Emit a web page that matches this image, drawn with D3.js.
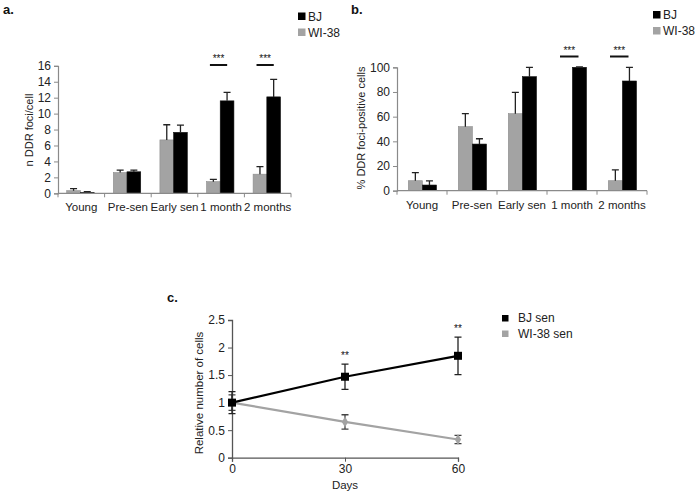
<!DOCTYPE html>
<html><head><meta charset="utf-8">
<script src="https://cdn.jsdelivr.net/npm/d3@7"></script>
<style>
html,body{margin:0;padding:0;background:#fff;}
svg{display:block;font-family:Arial,"Liberation Sans",sans-serif;}
</style></head>
<body>
<svg id="chart" width="695" height="497"></svg>
<script>
// ---------- DATA ----------
const categories = ["Young", "Pre-sen", "Early sen", "1 month", "2 months"];
const seriesNames = ["WI-38", "BJ"];
const fociWI38 = [0.33, 2.6, 6.7, 1.46, 2.4];
const fociWI38Err = [0.25, 0.3, 1.9, 0.29, 0.95];
const fociBJ = [0.12, 2.7, 7.65, 11.6, 12.1];
const fociBJErr = [0.08, 0.2, 0.9, 1.07, 2.2];
const pctWI38 = [8.1, 51.9, 62.4, 0.3, 8.1];
const pctWI38Err = [6.5, 10.5, 17.3, 0, 8.7];
const pctBJ = [4.6, 37.8, 92.4, 100, 88.9];
const pctBJErr = [3.3, 4.3, 7.6, 0.3, 11.1];
const sigCategories = ["1 month", "2 months"];
const fociTicks = [0, 2, 4, 6, 8, 10, 12, 14, 16];
const pctTicks = [0, 20, 40, 60, 80, 100];

const days = [0, 30, 60];
const bjSen = [1.0, 1.47, 1.85];
const bjSenErr = [0.2, 0.23, 0.34];
const wiSen = [1.0, 0.65, 0.33];
const wiSenErr = [0.14, 0.13, 0.075];
const sigDays = [30, 60];
const relTicks = [0, 0.5, 1, 1.5, 2, 2.5];
const lineSeries = ["BJ sen", "WI-38 sen"];

// ---------- STYLE ----------
const GRAY = "#a3a3a3", BLACK = "#000", AXIS = "#8a8a8a", TXT = "#222";
const svg = d3.select("#chart");

function barChart(cfg) {
  const g = svg.append("g");
  const x0 = d3.scaleBand().domain(categories).range([cfg.x0, cfg.x1]);
  const bw = x0.bandwidth();
  const x1 = d3.scaleBand().domain(seriesNames).range([bw * cfg.inner[0], bw * cfg.inner[1]]);
  const y = d3.scaleLinear().domain(cfg.domain).range([cfg.yBottom, cfg.yTop]);

  // bars
  const rows = categories.map((c, i) => ({
    cat: c,
    vals: [
      { s: "WI-38", v: cfg.wi[i], e: cfg.wiErr[i] },
      { s: "BJ", v: cfg.bj[i], e: cfg.bjErr[i] }
    ]
  }));
  const grp = g.selectAll("g.grp").data(rows).join("g")
    .attr("transform", d => `translate(${x0(d.cat)},0)`);
  grp.selectAll("rect").data(d => d.vals).join("rect")
    .attr("x", d => x1(d.s))
    .attr("width", x1.bandwidth())
    .attr("y", d => y(d.v))
    .attr("height", d => y(0) - y(d.v))
    .attr("fill", d => d.s === "BJ" ? BLACK : GRAY)
    .attr("stroke", d => d.s === "BJ" ? "#111" : "#8d8d8d")
    .attr("stroke-width", 0.6);
  // error bars (upward only)
  grp.selectAll("path.err").data(d => d.vals.filter(v => v.e > 0)).join("path")
    .attr("class", "err")
    .attr("d", d => {
      const cx = x1(d.s) + x1.bandwidth() / 2;
      const top = y(d.v + d.e);
      return `M${cx},${y(d.v)}V${top}M${cx - 3.5},${top}H${cx + 3.5}`;
    })
    .attr("stroke", "#222").attr("stroke-width", 1.3).attr("fill", "none");

  // axes
  const yAxis = g.append("g").attr("transform", `translate(${cfg.x0},0)`)
    .call(d3.axisLeft(y).tickValues(cfg.ticks).tickSize(4).tickPadding(3).tickFormat(d3.format("d")));
  yAxis.select(".domain").attr("stroke", AXIS).attr("stroke-width", 1.2);
  yAxis.selectAll(".tick line").attr("stroke", AXIS);
  yAxis.selectAll("text").attr("font-size", 12).attr("fill", TXT);

  const xAxis = g.append("g").attr("transform", `translate(0,${cfg.yBottom})`);
  xAxis.append("line").attr("x1", cfg.x0).attr("x2", cfg.x1).attr("stroke", AXIS).attr("stroke-width", 1.2);
  const bounds = categories.map(c => x0(c)).concat([cfg.x1]);
  xAxis.selectAll("line.tk").data(bounds).join("line").attr("class", "tk")
    .attr("x1", d => d).attr("x2", d => d).attr("y1", 0).attr("y2", 4).attr("stroke", AXIS);
  xAxis.selectAll("text").data(categories).join("text")
    .attr("x", d => x0(d) + bw / 2).attr("y", 18).attr("text-anchor", "middle")
    .attr("font-size", 11.5).attr("fill", TXT).text(d => d);

  // y label
  g.append("text").attr("transform", `translate(${cfg.ylabX},${cfg.ylabY}) rotate(-90)`)
    .attr("text-anchor", "middle").attr("font-size", 11).attr("fill", TXT).text(cfg.ylabel);

  // significance
  sigCategories.forEach(c => {
    const a = x0(c) + bw * 0.26, b = x0(c) + bw * 0.63;
    g.append("line").attr("x1", a).attr("x2", b).attr("y1", cfg.sigY).attr("y2", cfg.sigY)
      .attr("stroke", "#111").attr("stroke-width", 2);
    g.append("text").attr("x", (a + b) / 2).attr("y", cfg.sigY - 3).attr("text-anchor", "middle")
      .attr("font-size", 10).attr("fill", "#111").text("***");
  });

  // legend
  const lg = g.append("g").attr("transform", `translate(${cfg.legX},${cfg.legY})`);
  ["BJ", "WI-38"].forEach((s, i) => {
    lg.append("rect").attr("x", 0).attr("y", i * 16).attr("width", 7.5).attr("height", 7.5)
      .attr("fill", s === "BJ" ? BLACK : GRAY);
    lg.append("text").attr("x", 10).attr("y", i * 16 + 8).attr("font-size", 12).attr("fill", TXT).text(s);
  });

  // title
  g.append("text").attr("x", cfg.titleX).attr("y", 14).attr("font-size", 13).attr("font-weight", "bold")
    .attr("fill", "#111").text(cfg.title);
}

barChart({
  title: "a.", titleX: 3,
  x0: 58, x1: 291, yBottom: 193.3, yTop: 65.8, domain: [0, 16],
  inner: [0.187, 0.775],
  wi: fociWI38, wiErr: fociWI38Err, bj: fociBJ, bjErr: fociBJErr,
  ticks: fociTicks, ylabel: "n DDR foci/cell", ylabX: 33, ylabY: 130,
  sigY: 65, legX: 298, legY: 12.5
});
barChart({
  title: "b.", titleX: 351,
  x0: 397, x1: 647, yBottom: 190.7, yTop: 67.3, domain: [0, 100],
  inner: [0.226, 0.79],
  wi: pctWI38, wiErr: pctWI38Err, bj: pctBJ, bjErr: pctBJErr,
  ticks: pctTicks, ylabel: "% DDR foci-positive cells", ylabX: 365, ylabY: 128,
  sigY: 56.5, legX: 653, legY: 11
});

// ---------- PANEL C ----------
(function () {
  const g = svg.append("g");
  const x = d3.scaleLinear().domain([0, 60]).range([232, 458]);
  const y = d3.scaleLinear().domain([0, 2.5]).range([457.7, 320]);
  const AX = "#555";

  const yAxis = g.append("g").attr("transform", "translate(232,0)")
    .call(d3.axisLeft(y).tickValues(relTicks).tickSize(4).tickPadding(3).tickFormat(d => d));
  yAxis.select(".domain").attr("stroke", AX).attr("stroke-width", 1.3);
  yAxis.selectAll(".tick line").attr("stroke", AX);
  yAxis.selectAll("text").attr("font-size", 12).attr("fill", TXT);

  const xAxis = g.append("g").attr("transform", "translate(0,457.7)")
    .call(d3.axisBottom(x).tickValues(days).tickSize(4).tickPadding(3));
  xAxis.select(".domain").attr("stroke", AX).attr("stroke-width", 1.3);
  xAxis.selectAll(".tick line").attr("stroke", AX);
  xAxis.selectAll("text").attr("font-size", 12).attr("fill", TXT);

  g.append("text").attr("x", 345).attr("y", 489).attr("text-anchor", "middle")
    .attr("font-size", 11.5).attr("fill", TXT).text("Days");
  g.append("text").attr("transform", "translate(203,393) rotate(-90)")
    .attr("text-anchor", "middle").attr("font-size", 11.5).attr("fill", TXT).text("Relative number of cells");

  const line = d3.line().x(d => x(d.d)).y(d => y(d.v));
  const wiPts = days.map((d, i) => ({ d, v: wiSen[i], e: wiSenErr[i] }));
  const bjPts = days.map((d, i) => ({ d, v: bjSen[i], e: bjSenErr[i] }));

  function errBars(pts, color) {
    g.selectAll(null).data(pts).join("path")
      .attr("d", d => {
        const cx = x(d.d), t = y(d.v + d.e), b = y(d.v - d.e);
        return `M${cx},${t}V${b}M${cx - 3.5},${t}H${cx + 3.5}M${cx - 3.5},${b}H${cx + 3.5}`;
      })
      .attr("stroke", color).attr("stroke-width", 1.3).attr("fill", "none");
  }

  // WI-38
  g.append("path").datum(wiPts).attr("d", line).attr("fill", "none")
    .attr("stroke", GRAY).attr("stroke-width", 2.2);
  errBars(wiPts, "#444");
  g.selectAll(null).data(wiPts).join("path")
    .attr("d", d3.symbol(d3.symbolDiamond, 34))
    .attr("transform", d => `translate(${x(d.d)},${y(d.v)})`).attr("fill", GRAY);

  // BJ
  g.append("path").datum(bjPts).attr("d", line).attr("fill", "none")
    .attr("stroke", BLACK).attr("stroke-width", 2.2);
  errBars(bjPts, "#222");
  g.selectAll(null).data(bjPts).join("rect")
    .attr("x", d => x(d.d) - 4).attr("y", d => y(d.v) - 4)
    .attr("width", 8).attr("height", 8).attr("fill", BLACK);

  // significance
  g.selectAll(null).data(sigDays).join("text")
    .attr("x", d => x(d)).attr("y", d => {
      const i = days.indexOf(d);
      return y(bjSen[i] + bjSenErr[i]) - 5;
    })
    .attr("text-anchor", "middle").attr("font-size", 10).attr("fill", "#111").text("**");

  // legend
  const lg = g.append("g").attr("transform", "translate(502,315)");
  lineSeries.forEach((s, i) => {
    lg.append("rect").attr("x", 0).attr("y", i * 15.5).attr("width", 6.5).attr("height", 6.5)
      .attr("fill", i === 0 ? BLACK : GRAY);
    lg.append("text").attr("x", 16).attr("y", i * 15.5 + 7).attr("font-size", 12).attr("fill", TXT).text(s);
  });

  g.append("text").attr("x", 167).attr("y", 302).attr("font-size", 13).attr("font-weight", "bold")
    .attr("fill", "#111").text("c.");
})();
</script>
</body></html>
